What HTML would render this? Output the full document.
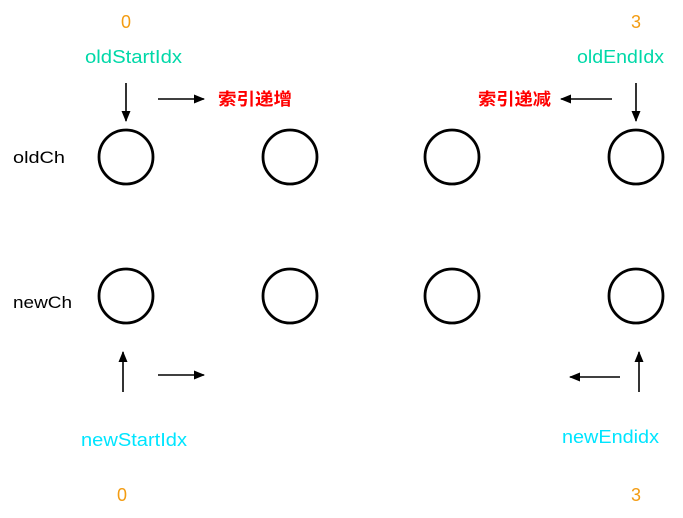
<!DOCTYPE html>
<html><head><meta charset="utf-8"><style>
html,body{margin:0;padding:0;background:#fff;}
svg{display:block;}
text{font-family:"Liberation Sans","Noto Sans CJK SC",sans-serif;}
</style></head><body>
<svg width="683" height="518" viewBox="0 0 683 518" xmlns="http://www.w3.org/2000/svg">
<defs><marker id="a" markerWidth="11" markerHeight="9" refX="10" refY="4.5" orient="auto" markerUnits="userSpaceOnUse"><path d="M0,0 L11,4.5 L0,9 z" fill="#000"/></marker></defs>
<g fill="none" stroke="#000" stroke-width="2.8">
<circle cx="126" cy="157" r="27"/><circle cx="290" cy="157" r="27"/><circle cx="452" cy="157" r="27"/><circle cx="636" cy="157" r="27"/>
<circle cx="126" cy="296" r="27"/><circle cx="290" cy="296" r="27"/><circle cx="452" cy="296" r="27"/><circle cx="636" cy="296" r="27"/>
</g>
<g stroke="#000" stroke-width="1.6" marker-end="url(#a)">
<line x1="126" y1="83" x2="126" y2="121"/>
<line x1="158" y1="99" x2="204" y2="99"/>
<line x1="636" y1="83" x2="636" y2="121"/>
<line x1="612" y1="99" x2="561" y2="99"/>
<line x1="123" y1="392" x2="123" y2="352"/>
<line x1="158" y1="375" x2="204" y2="375"/>
<line x1="639" y1="392" x2="639" y2="352"/>
<line x1="620" y1="377" x2="570" y2="377"/>
</g>
<g font-size="18" font-weight="500">
<text x="121" y="28" fill="#f39c12">0</text>
<text x="631" y="28" fill="#f39c12">3</text>
<text x="117" y="501" fill="#f39c12">0</text>
<text x="631" y="501" fill="#f39c12">3</text>
<text x="85" y="63" fill="#00d8a8" textLength="97" lengthAdjust="spacingAndGlyphs">oldStartIdx</text>
<text x="577" y="63" fill="#00d8a8" textLength="87" lengthAdjust="spacingAndGlyphs">oldEndIdx</text>
<text x="81" y="446" fill="#00e5ff" textLength="106" lengthAdjust="spacingAndGlyphs">newStartIdx</text>
<text x="562" y="443" fill="#00e5ff" textLength="97" lengthAdjust="spacingAndGlyphs">newEndidx</text>
</g>
<g font-size="17" fill="#000">
<text x="13" y="163" textLength="52" lengthAdjust="spacingAndGlyphs">oldCh</text>
<text x="13" y="308" textLength="59" lengthAdjust="spacingAndGlyphs">newCh</text>
</g>
<g font-size="17" font-weight="bold" fill="#ff0000">
<text x="218" y="105" textLength="74" lengthAdjust="spacingAndGlyphs">索引递增</text>
<text x="478" y="105" textLength="73" lengthAdjust="spacingAndGlyphs">索引递减</text>
</g>
</svg>
</body></html>
